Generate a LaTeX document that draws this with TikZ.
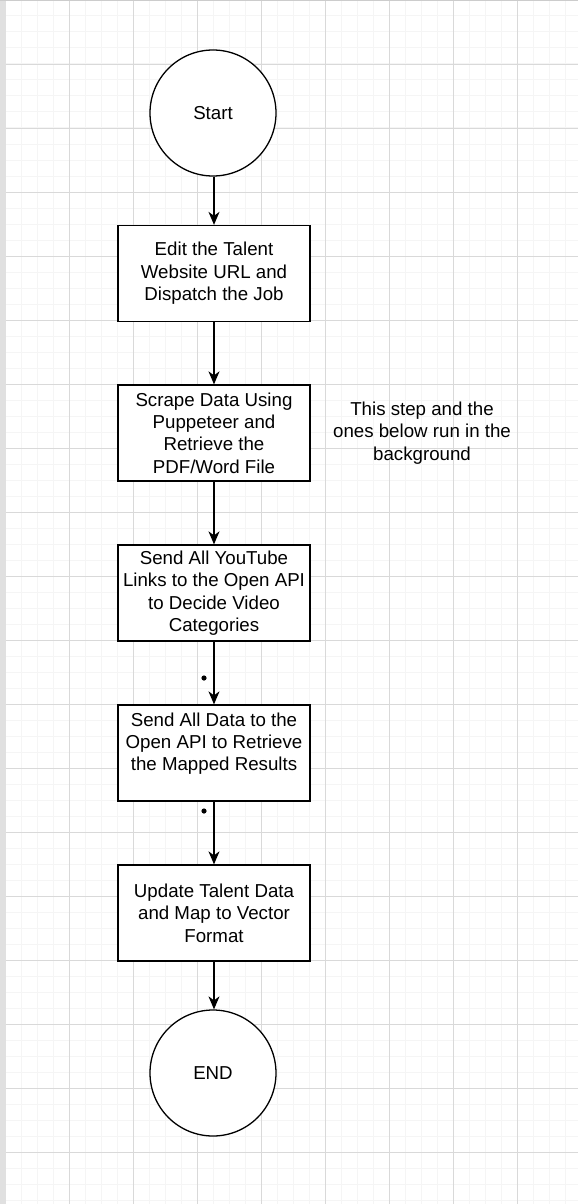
\documentclass[tikz,border=0pt]{standalone}
\usepackage{fontspec}
\setmainfont{Liberation Sans}
\usepackage{tikz}
\usetikzlibrary{arrows.meta}
\tikzset{
    x=1pt, y=-1pt,
    txt/.style={font=\fontsize{18.7}{22.4}\selectfont},
    stepbox/.style={txt, draw, line width=1.3pt, fill=white, minimum width=192pt, minimum height=96pt, inner sep=0pt, align=center},
    terminal/.style={txt, draw, circle, line width=1.3pt, fill=white, minimum size=126pt, inner sep=0pt},
    note/.style={txt, align=center, inner sep=0pt},
    flow/.style={line width=1.3pt, -{Stealth[length=13pt, width=11pt, inset=4pt]}},
    gridminor/.style={draw=black!4, line width=1pt},
    gridmajor/.style={draw=black!15, line width=0.9pt},
}

\begin{document}
\begin{tikzpicture}
            \useasboundingbox (0,0) rectangle (578,1204);
            \fill[white] (0,0) rectangle (578,1204);
            \foreach \x in {5,21,...,581} \draw[gridminor] (\x,0) -- (\x,1204);
            \foreach \y in {16,32,...,1200} \draw[gridminor] (0,\y) -- (578,\y);
            \foreach \x in {5,69,...,581} \draw[gridmajor] (\x,0) -- (\x,1204);
            \foreach \y in {64,128,...,1200} \draw[gridmajor] (0,\y) -- (578,\y);
            \fill[black!12] (0,0) rectangle (6,1204);
            \fill[black!20] (0,0) rectangle (578,1.5);

            \node[terminal] (start) at (213,113) {Start};
            \node[stepbox] (edit) at (214,273.5) {Edit the Talent\\Website URL and\\Dispatch the Job};
            \node[stepbox] (scrape) at (214,433) {Scrape Data Using\\Puppeteer and\\Retrieve the\\PDF/Word File};
            \node[stepbox] (youtube) at (214,593) {Send All YouTube\\Links to the Open API\\to Decide Video\\Categories};
            \node[stepbox] (mapped) at (214,753) {Send All Data to the\\Open API to Retrieve\\the Mapped Results\\\mbox{}};
            \node[stepbox] (update) at (214,913) {Update Talent Data\\and Map to Vector\\Format};
            \node[terminal] (finish) at (213,1073) {END};

            \node[note] (bgnote) at (422,433) {This step and the\\ones below run in the\\background};

            \draw[flow] (start.south -| edit.north) -- (edit.north);
            \draw[flow] (edit) -- (scrape);
            \draw[flow] (scrape) -- (youtube);
            \draw[flow] (youtube) -- (mapped);
            \draw[flow] (mapped) -- (update);
            \draw[flow] (update.south) -- (update.south |- finish.north);

            \fill (204,678) circle (2.6);
            \fill (204,811) circle (2.6);
        \end{tikzpicture}
\end{document}
